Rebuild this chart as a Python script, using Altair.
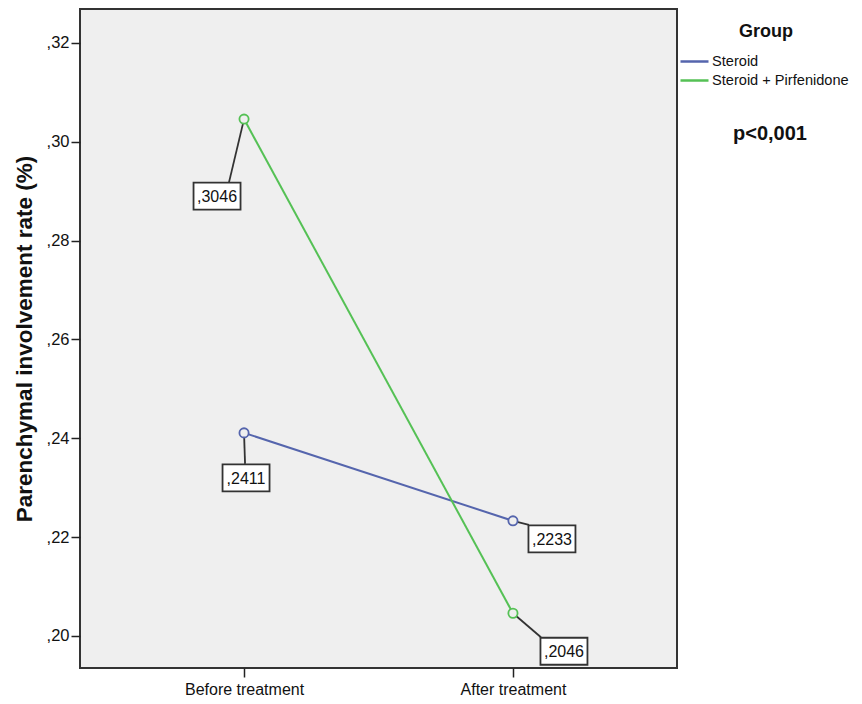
import altair as alt
import pandas as pd

groups = ["Steroid", "Steroid + Pirfenidone"]
times = ["Before treatment", "After treatment"]
steroid_vals = [0.2411, 0.2233]
pirf_vals = [0.3046, 0.2046]
colors = ["#5565ad", "#55c155"]
y_ticks = [0.20, 0.22, 0.24, 0.26, 0.28, 0.30, 0.32]

rows = []
for t, v in zip(times, steroid_vals):
    rows.append({"group": groups[0], "time": t, "value": v})
for t, v in zip(times, pirf_vals):
    rows.append({"group": groups[1], "time": t, "value": v})
df = pd.DataFrame(rows)

# label placement styles (pixel offsets from each point): box centre, leader end
label_style = {
    (groups[1], times[0]): {"box": (-27, 77), "lead": (-15, 63)},
    (groups[0], times[0]): {"box": (2, 45), "lead": (1, 31)},
    (groups[0], times[1]): {"box": (39, 18), "lead": (16, 4)},
    (groups[1], times[1]): {"box": (51, 38), "lead": (28, 24)},
}

FONT = "Liberation Sans"
x_enc = alt.X("time:N", sort=times,
              scale=alt.Scale(type="point", padding=0.61),
              axis=alt.Axis(title=None, labelAngle=0, labelAlign="center", labelFontSize=16,
                            labelColor="#111", labelFont=FONT, tickSize=9, tickWidth=1.5,
                            tickColor="#222", domain=False, labelPadding=12))
y_enc = alt.Y("value:Q",
              scale=alt.Scale(domain=[0.19352, 0.32688], nice=False, zero=False),
              axis=alt.Axis(title="Parenchymal involvement rate (%)", values=y_ticks,
                            labelExpr="replace(format(datum.value, '.2f'), '0.', ',')",
                            labelFontSize=16.5, labelColor="#111", labelFont=FONT,
                            titleFont=FONT, titleFontSize=22.5, titleFontWeight="bold",
                            titleColor="#111", titlePadding=10, tickSize=9, tickWidth=1.5,
                            tickColor="#222", domain=False, grid=False, labelPadding=2))

base = alt.Chart(df)

lines = base.mark_line(
    strokeWidth=2,
    point=alt.OverlayMarkDef(filled=False, fill="#efefef", size=85, strokeWidth=1.8),
).encode(
    x=x_enc, y=y_enc,
    color=alt.Color("group:N", scale=alt.Scale(domain=groups, range=colors),
                    legend=alt.Legend(title="Group", orient="none", legendX=603, legendY=14,
                                      symbolType="M-1.4,0L1.4,0", symbolSize=400,
                                      symbolStrokeWidth=2.5,
                                      titleFont=FONT, titleFontSize=18, titleFontWeight="bold",
                                      titleColor="#111", titleAnchor="middle", titlePadding=9,
                                      labelFont=FONT, labelFontSize=14.6, labelColor="#111",
                                      labelOffset=6, rowPadding=0)),
    detail="group:N",
)

layers_below = []
layers_above = []
for (g, t), st in label_style.items():
    sub = base.transform_filter(
        (alt.datum.group == g) & (alt.datum.time == t)
    ).transform_calculate(
        lab="replace(format(datum.value, '.4f'), '0.', ',')"
    )
    bx, by = st["box"]
    lx, ly = st["lead"]
    layers_below.append(
        sub.mark_rule(color="#333", strokeWidth=1.8, x2Offset=lx, y2Offset=ly).encode(
            x=alt.X("time:N", sort=times), y="value:Q",
            x2="time:N", y2="value:Q")
    )
    layers_above.append(
        sub.mark_point(shape="M-1,-0.575L1,-0.575L1,0.575L-1,0.575Z", size=2209, filled=True,
                       fill="white", stroke="#333", strokeWidth=1.8, opacity=1,
                       xOffset=bx, yOffset=by).encode(
            x=alt.X("time:N", sort=times), y="value:Q")
    )
    layers_above.append(
        sub.mark_text(font=FONT, fontSize=16, color="#111", dx=bx, dy=by + 1,
                      baseline="middle").encode(
            x=alt.X("time:N", sort=times), y="value:Q", text="lab:N")
    )

ptext = alt.Chart(pd.DataFrame({"t": ["p<0,001"]})).mark_text(
    font=FONT, fontSize=20, fontWeight="bold", color="#111", align="center",
    baseline="middle"
).encode(x=alt.value(690), y=alt.value(125), text="t:N")

chart = alt.layer(*layers_below, lines, *layers_above, ptext).properties(
    width=597, height=659,
    autosize=alt.AutoSizeParams(type="none"),
    padding={"left": 72, "top": 1, "right": 177, "bottom": 28},
).configure(
    background="white"
).configure_view(
    fill="#efefef", stroke="#333", strokeWidth=2
)

chart.save("out.html", embed_options={"renderer": "svg", "actions": False})
